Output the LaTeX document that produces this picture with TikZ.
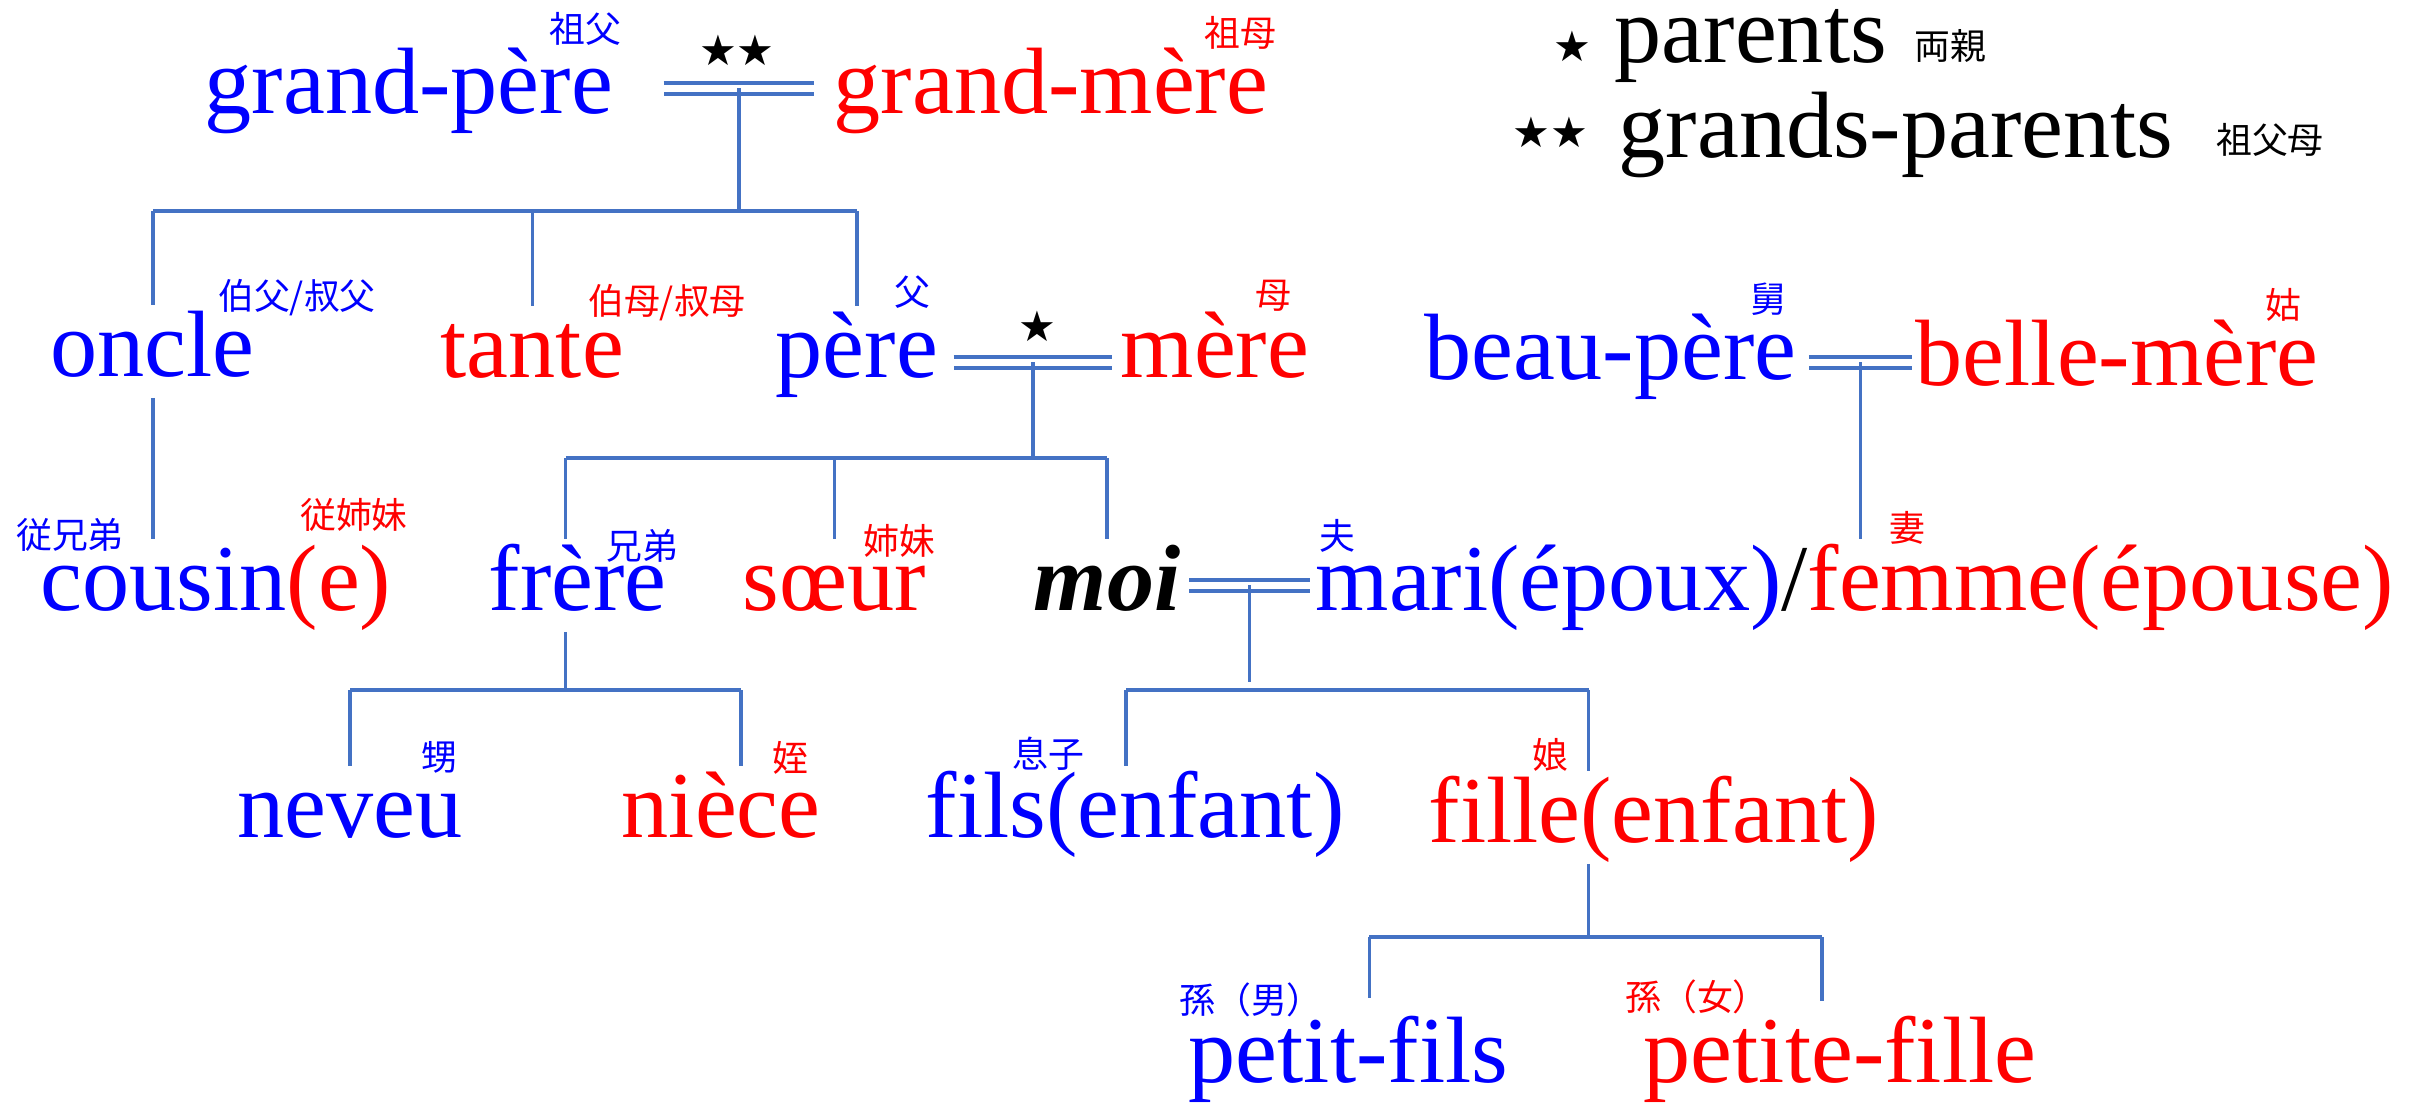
\documentclass[tikz,border=0pt]{standalone}
\usepackage{fontspec}
\setmainfont{Liberation Serif}
\newfontfamily\jpfont{Noto Sans CJK JP}
\newfontfamily\etoilefont{DejaVu Sans}
\usetikzlibrary{calc}
\definecolor{lienc}{RGB}{68,114,196}
\newcommand{\motfont}{\fontsize{26.8pt}{30pt}\selectfont}

\begin{document}
\begin{tikzpicture}[x=0.01cm, y=-0.01cm]
    \useasboundingbox (0,0) rectangle (2413,1102);

    % Estilos del arbol
    \tikzset{
      mot/.style={font=\motfont, inner sep=0pt, anchor=base west,
        text height=20pt, text depth=6pt},
      hom/.style={mot, text=blue},
      fem/.style={mot, text=red},
      legende/.style={font=\motfont, inner sep=0pt, anchor=base west},
      kanji/.style={font=\jpfont\fontsize{10.2pt}{12pt}\selectfont, inner sep=0pt},
      etoile/.style={font=\etoilefont\fontsize{12pt}{14pt}\selectfont, inner sep=0pt},
      lien/.style={draw=lienc, line width=1pt},
      barre/.style={draw=lienc, line width=1.3pt},
      mariage/.style={draw=lienc, line width=1.3pt, double=white, double distance=1.8pt}
    }

    % Leyenda
    \node[etoile] (e1) at (1572,46) {★};
    \node[legende] (leg1) at (1614,62) {parents};
    \node[kanji] (kleg1) at (1950,46) {両親};
    \node[etoile] (e2) at (1550,132) {★★};
    \node[legende] (leg2) at (1618,157) {grands-parents};
    \node[kanji] (kleg2) at (2270,140) {祖父母};

    % Abuelos
    \node[hom] (gp) at (204,113) {grand-père};
    \node[fem] (gm) at (833,113) {grand-mère};
    \node[kanji, text=blue] (kgp) at (585,29) {祖父};
    \node[kanji, text=red] (kgm) at (1240,33) {祖母};
    \node[etoile] (egp) at (737,50) {★★};
    \draw[mariage] ($(gp.east)+(50,0)$) -- coordinate (gpm) ($(gm.west)+(-19,0)$);
    \coordinate (gbar) at (0,211);

    % Segunda generacion
    \node[hom] (oncle) at (50,376) {oncle};
    \node[fem] (tante) at (440,377) {tante};
    \node[hom] (pere) at (775,377) {père};
    \node[fem] (mere) at (1120,377) {mère};
    \node[kanji, text=blue] (koncle) at (297,298) {伯父/叔父};
    \node[kanji, text=red] (ktante) at (667,303) {伯母/叔母};
    \node[kanji, text=blue] (kpere) at (912,292) {父};
    \node[kanji, text=red] (kmere) at (1273,296) {母};
    \node[etoile] (epm) at (1037,326) {★};
    \draw[lien] (gpm) -- (gpm |- gbar);
    \draw[barre] (oncle.north |- gbar) -- (pere.north |- gbar);
    \draw[lien] (oncle.north |- gbar) -- (oncle.north);
    \draw[lien] (tante.north |- gbar) -- (tante.north);
    \draw[lien] (pere.north |- gbar) -- (pere.north);
    \draw[mariage] ($(pere.east)+(15,10)$) -- coordinate (pmm) ($(pere.east -| mere.west)+(-8,10)$);

    % Suegros
    \node[hom] (bp) at (1424,379) {beau-père};
    \node[fem] (bm) at (1915,385) {belle-mère};
    \node[kanji, text=blue] (kbp) at (1768,299) {舅};
    \node[kanji, text=red] (kbm) at (2283,305) {姑};
    \draw[mariage] ($(bp.east)+(12,8)$) -- coordinate (bpm) ($(bp.east -| bm.west)+(-3,8)$);

    % Tercera generacion
    \node[hom] (cousin) at (40,610) {cousin\textcolor{red}{(e)}};
    \node[kanji, text=blue] (kcousin) at (70,535) {従兄弟};
    \node[kanji, text=red] (kcousine) at (354,515) {従姉妹};
    \draw[lien] (oncle.south) -- (oncle.south |- cousin.north);

    \node[hom] (frere) at (488,610) {frère};
    \node[fem] (soeur) at (742,610) {sœur};
    \node[mot, font=\motfont\bfseries\itshape] (moi) at (1033,610) {moi};
    \node[kanji, text=blue] (kfrere) at (642,546) {兄弟};
    \node[kanji, text=red] (ksoeur) at (899,541) {姉妹};
    \coordinate (pbar) at (0,458);
    \coordinate (frereh) at ($(frere.north)+(-12,0)$);
    \draw[lien] (pmm) -- (pmm |- pbar);
    \draw[barre] (frereh |- pbar) -- (moi.north |- pbar);
    \draw[lien] (frereh |- pbar) -- (frereh);
    \draw[lien] (soeur.north |- pbar) -- (soeur.north);
    \draw[lien] (moi.north |- pbar) -- (moi.north);

    % Pareja
    \node[hom] (mari) at (1315,610) {mari(époux)\textcolor{black}{/}\textcolor{red}{femme(épouse)}};
    \node[kanji, text=blue] (kmari) at (1337,536) {夫};
    \node[kanji, text=red] (kfemme) at (1907,528) {妻};
    \draw[mariage] ($(moi.east)+(8,0)$) -- coordinate (mm) ($(mari.west)+(-5,0)$);
    \draw[lien] (bpm) -- (bpm |- mari.north);

    % Sobrinos
    \coordinate (fbar) at (0,690);
    \node[hom] (neveu) at (237,837) {neveu};
    \node[fem] (niece) at (621,837) {nièce};
    \node[kanji, text=blue] (kneveu) at (439,757) {甥};
    \node[kanji, text=red] (kniece) at (790,758) {姪};
    \coordinate (nieceh) at ($(niece.north)+(20,0)$);
    \draw[lien] (frereh |- frere.south) -- (frereh |- fbar);
    \draw[barre] (neveu.north |- fbar) -- (nieceh |- fbar);
    \draw[lien] (neveu.north |- fbar) -- (neveu.north);
    \draw[lien] (nieceh |- fbar) -- (nieceh);

    % Hijos
    \node[hom] (fils) at (925,837) {fils(enfant)};
    \node[fem] (fille) at (1428,842) {fille(enfant)};
    \node[kanji, text=blue] (kfils) at (1048,754) {息子};
    \node[kanji, text=red] (kfille) at (1550,755) {娘};
    \coordinate (filsh) at ($(fils.north)+(-9,0)$);
    \coordinate (filleh) at ($(fille.north)+(-65,0)$);
    \draw[lien] (mm) -- ($(mm |- fbar)+(0,-8)$);
    \draw[barre] (filsh |- fbar) -- (filleh |- fbar);
    \draw[lien] (filsh |- fbar) -- (filsh);
    \draw[lien] (filleh |- fbar) -- (filleh);

    % Nietos
    \coordinate (pbar2) at (0,937);
    \node[hom] (pfils) at (1188,1082) {petit-fils};
    \node[fem] (pfille) at (1643,1082) {petite-fille};
    \node[kanji, text=blue] (kpfils) at (1251,1000) {孫（男）};
    \node[kanji, text=red] (kpfille) at (1697,997) {孫（女）};
    \coordinate (pfilsh) at ($(pfils.north)+(21,-13)$);
    \coordinate (pfilleh) at ($(pfille.north)+(-18,-10)$);
    \draw[lien] (filleh |- fille.south) -- (filleh |- pbar2);
    \draw[barre] (pfilsh |- pbar2) -- (pfilleh |- pbar2);
    \draw[lien] (pfilsh |- pbar2) -- (pfilsh);
    \draw[lien] (pfilleh |- pbar2) -- (pfilleh);
\end{tikzpicture}
\end{document}
